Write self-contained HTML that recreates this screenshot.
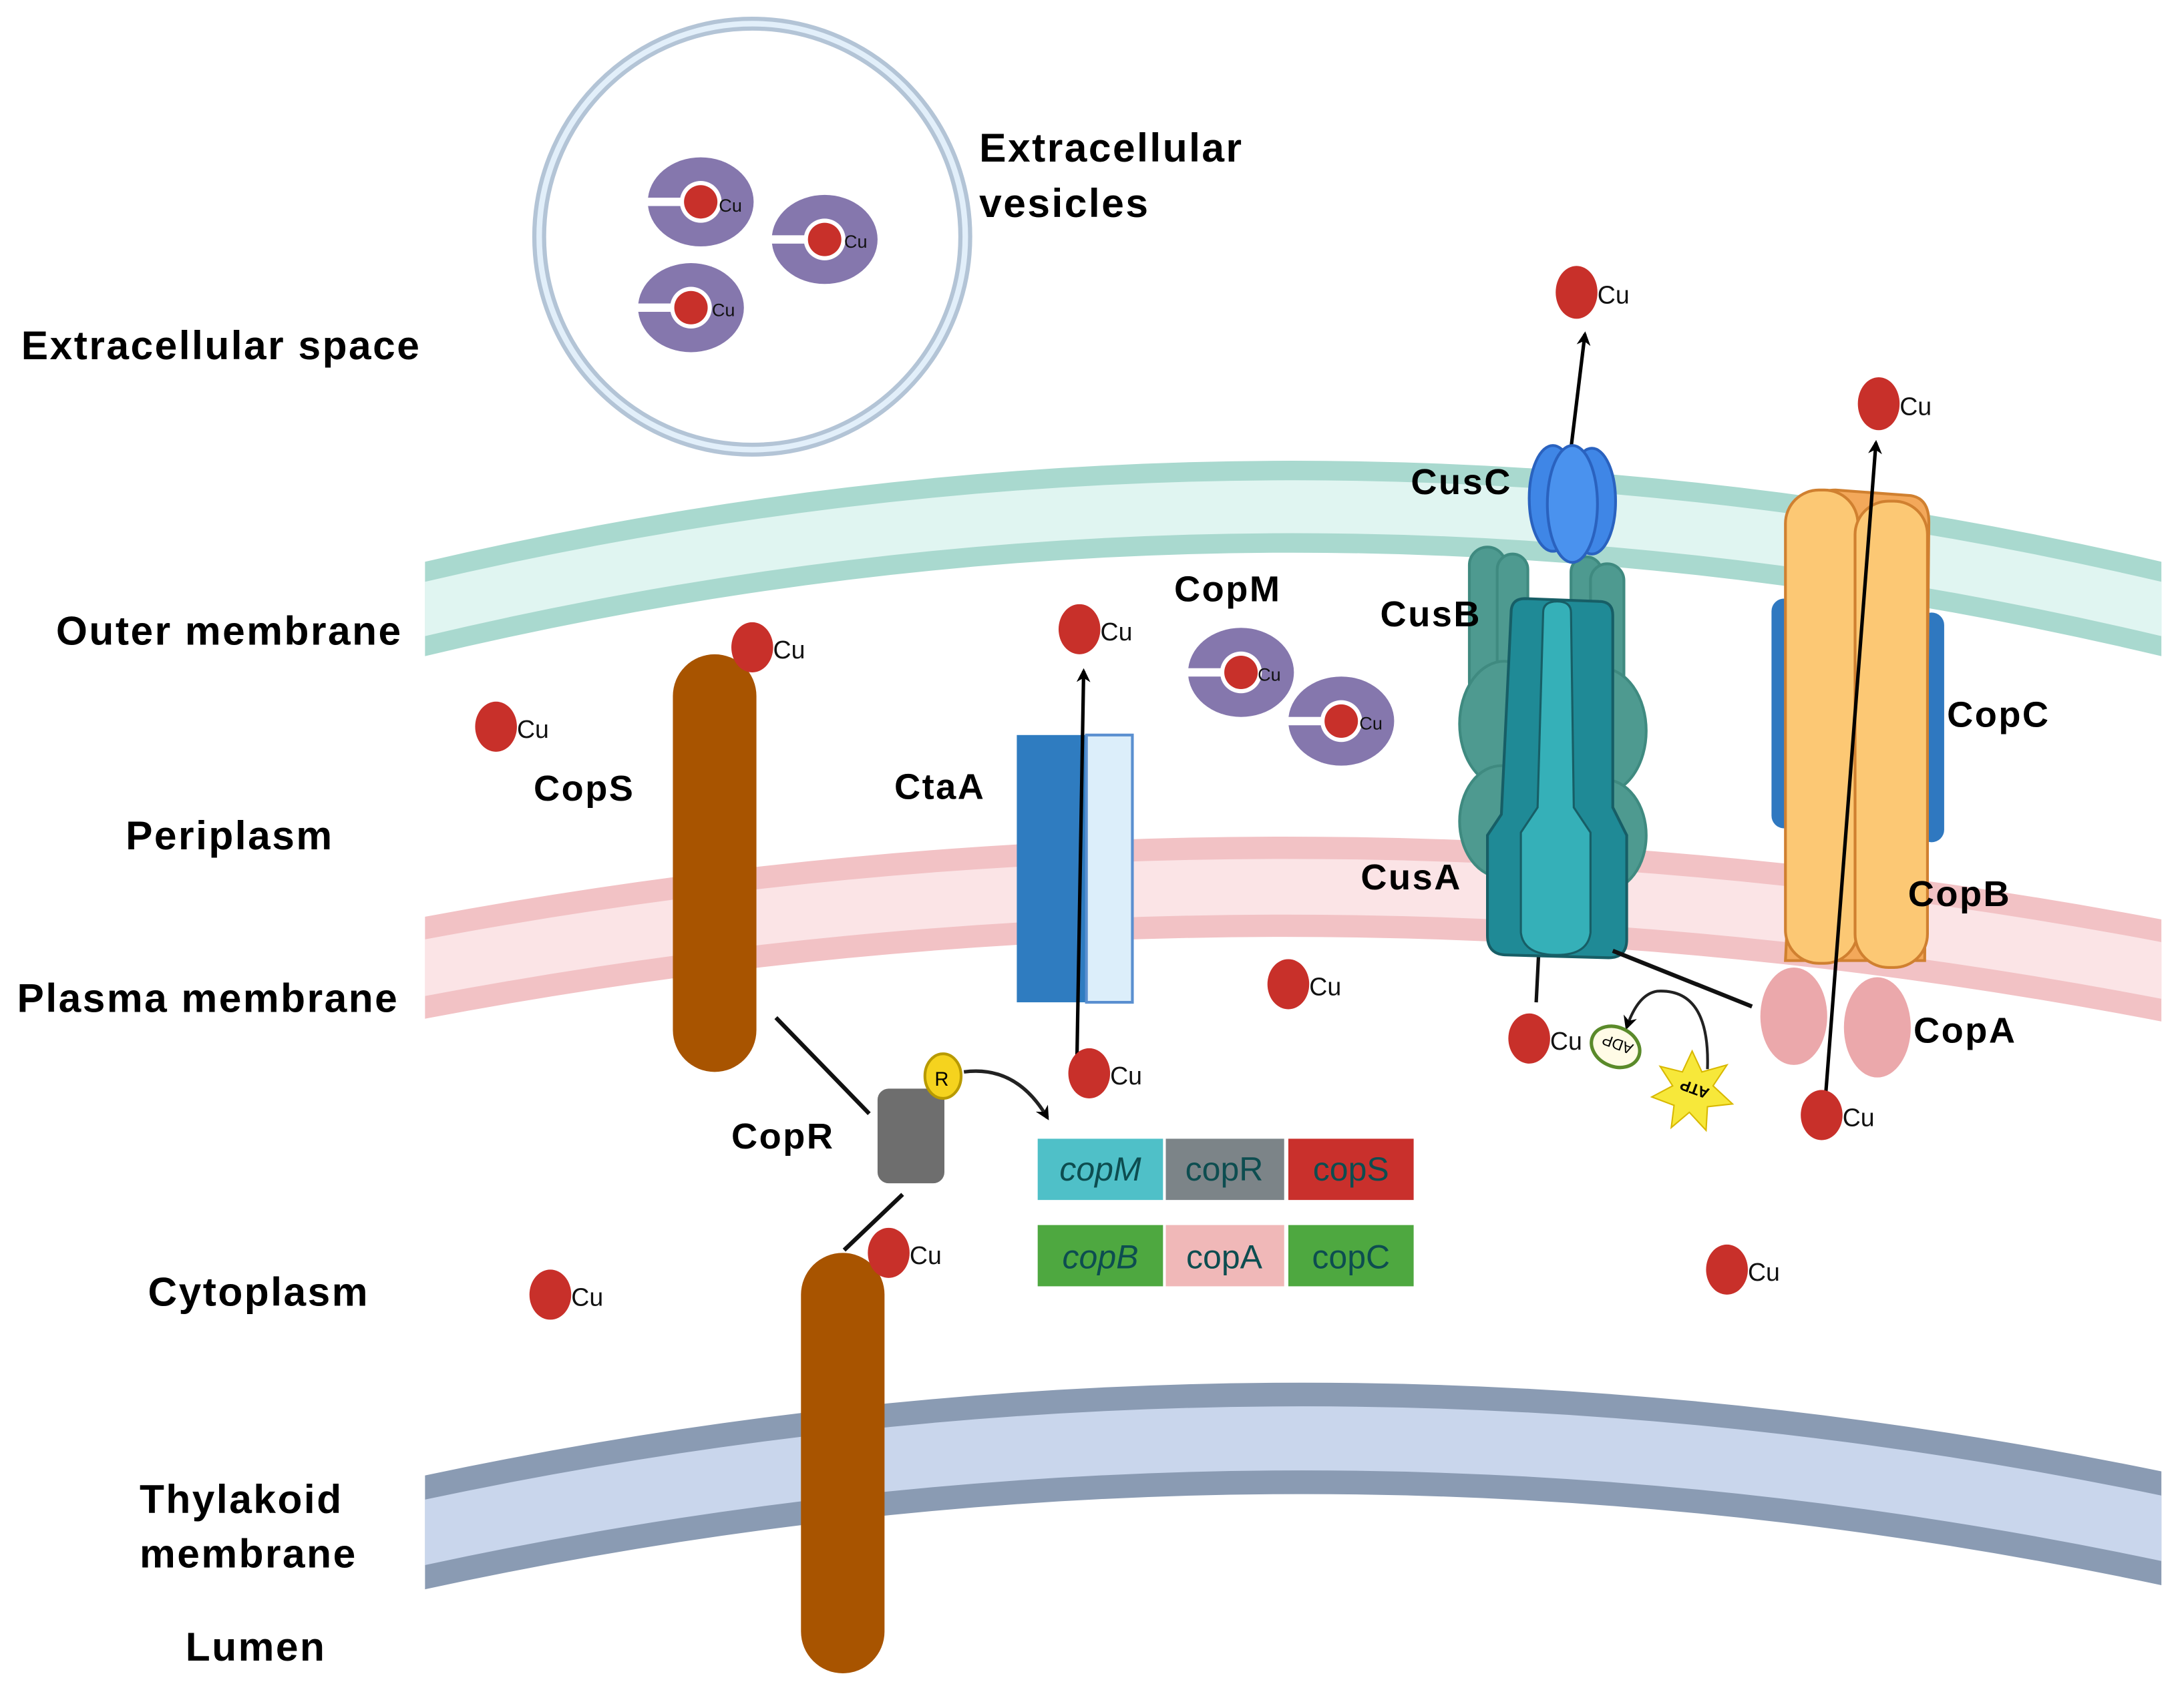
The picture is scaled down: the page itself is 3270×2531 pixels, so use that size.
<!DOCTYPE html>
<html><head><meta charset="utf-8"><style>
html,body{margin:0;padding:0;background:#fff}
svg{display:block}
.l{font-family:"Liberation Sans",sans-serif;font-weight:bold;font-size:29px;letter-spacing:1.2px;fill:#000}
.cu{font-family:"Liberation Sans",sans-serif;font-size:18px;fill:#111}
.g{font-family:"Liberation Sans",sans-serif;font-style:italic;font-size:24px;fill:#0d4d50;text-anchor:middle}
</style></head><body>
<svg width="3270" height="2531" viewBox="0 0 1568 1214" xmlns="http://www.w3.org/2000/svg">
<defs>
<marker id="ar" markerWidth="10" markerHeight="10" refX="8" refY="5" orient="auto" markerUnits="userSpaceOnUse"><path d="M0,0 L10,5 L0,10 L3,5z" fill="#000"/></marker>
<g id="cm">
<ellipse cx="0" cy="0" rx="38" ry="32" fill="#8577ad"/>
<rect x="-40" y="-3" width="40" height="6" fill="#fff"/>
<circle cx="0" cy="0" r="15" fill="#fff"/>
<circle cx="0" cy="0" r="12" fill="#c8302a"/>
</g>
<clipPath id="cl"><rect x="305" y="0" width="1247" height="1214"/></clipPath>
</defs>
<!-- membranes -->
<g clip-path="url(#cl)">
<path d="M290,441 Q928,287 1567,441" fill="none" stroke="#a9d9cf" stroke-width="66"/>
<path d="M290,441 Q928,287 1567,441" fill="none" stroke="#e0f5f1" stroke-width="38"/>
<path d="M290,698 Q928,575 1567,700" fill="none" stroke="#f2c2c5" stroke-width="72"/>
<path d="M290,698 Q928,575 1567,700" fill="none" stroke="#fbe4e6" stroke-width="40"/>
<path d="M290,1104 Q928,964 1567,1101" fill="none" stroke="#8a9bb3" stroke-width="80"/>
<path d="M290,1104 Q928,964 1567,1101" fill="none" stroke="#c9d6ec" stroke-width="46"/>
</g>
<!-- vesicle -->
<circle cx="540" cy="170" r="153" fill="#fff" stroke="#b3c4d6" stroke-width="10"/>
<circle cx="540" cy="170" r="153" fill="none" stroke="#e2effa" stroke-width="4"/>
<use href="#cm" x="503" y="145"/><text class="cu" x="516" y="152" style="font-size:13px">Cu</text>
<use href="#cm" x="592" y="172"/><text class="cu" x="606" y="178" style="font-size:13px">Cu</text>
<use href="#cm" x="496" y="221"/><text class="cu" x="511" y="227" style="font-size:13px">Cu</text>
<!-- periplasm CopM -->
<use href="#cm" x="891" y="483"/><text class="cu" x="903" y="489" style="font-size:13px">Cu</text>
<use href="#cm" x="963" y="518"/><text class="cu" x="976" y="524" style="font-size:13px">Cu</text>
<!-- CopS capsules -->
<rect x="483" y="470" width="60" height="300" rx="30" fill="#a85400"/>
<rect x="575" y="900" width="60" height="302" rx="30" fill="#a85400"/>
<!-- CtaA -->
<rect x="730" y="528" width="52" height="192" fill="#2f7cc0"/>
<rect x="780" y="528" width="33" height="192" fill="#dceefa" stroke="#5a8fd0" stroke-width="2"/>
<line x1="773" y1="772" x2="778" y2="482" stroke="#000" stroke-width="2.5" marker-end="url(#ar)"/>
<!-- CopR -->
<line x1="557" y1="731" x2="624" y2="800" stroke="#111" stroke-width="3"/>
<line x1="648" y1="858" x2="606" y2="898" stroke="#111" stroke-width="3"/>
<rect x="630" y="782" width="48" height="68" rx="8" fill="#6e6e6e"/>
<ellipse cx="677" cy="773" rx="13" ry="16" fill="#f5d31e" stroke="#b89a00" stroke-width="2"/>
<text x="671" y="780" style="font-family:'Liberation Sans',sans-serif;font-size:14px">R</text>
<path d="M692,770 Q730,765 752,803" fill="none" stroke="#222" stroke-width="2.5" marker-end="url(#ar)"/>
<!-- gene boxes -->
<rect x="745" y="818" width="90" height="44" fill="#4fc0c8"/><text class="g" x="790" y="848">copM</text>
<rect x="837" y="818" width="85" height="44" fill="#7c8488"/><text class="g" x="879" y="848" style="font-style:normal">copR</text>
<rect x="925" y="818" width="90" height="44" fill="#c9302c"/><text class="g" x="970" y="848" style="font-style:normal">copS</text>
<rect x="745" y="880" width="90" height="44" fill="#4ea840"/><text class="g" x="790" y="911">copB</text>
<rect x="837" y="880" width="85" height="44" fill="#f0b8b8"/><text class="g" x="879" y="911" style="font-style:normal">copA</text>
<rect x="925" y="880" width="90" height="44" fill="#4ea840"/><text class="g" x="970" y="911" style="font-style:normal">copC</text>
<!-- Cus complex -->
<line x1="1128" y1="322" x2="1138" y2="240" stroke="#000" stroke-width="2.5" marker-end="url(#ar)"/>
<line x1="1105" y1="680" x2="1103" y2="720" stroke="#111" stroke-width="2.5"/>
<g fill="#4e9a90" stroke="#3f8a80" stroke-width="2">
<rect x="1055" y="393" width="26" height="110" rx="13"/>
<rect x="1075" y="398" width="22" height="100" rx="11"/>
<rect x="1128" y="400" width="22" height="100" rx="11"/>
<rect x="1142" y="405" width="24" height="110" rx="12"/>
<ellipse cx="1080" cy="520" rx="32" ry="45"/>
<ellipse cx="1078" cy="590" rx="30" ry="40"/>
<ellipse cx="1150" cy="525" rx="32" ry="45"/>
<ellipse cx="1152" cy="600" rx="30" ry="40"/>
</g>
<path d="M1085,440 Q1085,430 1095,430 L1148,432 Q1158,432 1158,442 L1158,580 L1168,600 L1168,675 Q1168,688 1155,688 L1082,686 Q1068,686 1068,672 L1068,600 L1078,585 Z" fill="#1f8a96" stroke="#175e66" stroke-width="2"/>
<path d="M1108,440 Q1108,432 1118,432 Q1128,432 1128,440 L1130,580 L1142,598 L1142,670 Q1140,686 1118,686 Q1094,686 1092,670 L1092,598 L1104,580 Z" fill="#35b0b8" stroke="#175e66" stroke-width="1.5"/>
<g fill="#3f86e6" stroke="#2a62bf" stroke-width="2">
<ellipse cx="1115" cy="358" rx="17" ry="38"/>
<ellipse cx="1143" cy="360" rx="17" ry="38"/>
<ellipse cx="1129" cy="362" rx="18" ry="42" fill="#4a92ee"/>
</g>
<!-- CopB / CopC / CopA -->
<rect x="1272" y="430" width="18" height="165" rx="9" fill="#2f78c0"/>
<rect x="1378" y="440" width="18" height="165" rx="9" fill="#2f78c0"/>
<path d="M1298,370 Q1300,352 1318,352 L1372,356 Q1385,358 1385,375 L1382,690 L1282,690 Z" fill="#f3a85a" stroke="#d08030" stroke-width="2"/>
<rect x="1282" y="352" width="52" height="340" rx="24" fill="#fcc874" stroke="#d08030" stroke-width="2"/>
<rect x="1332" y="360" width="52" height="335" rx="24" fill="#fcc874" stroke="#d08030" stroke-width="2"/>
<ellipse cx="1288" cy="730" rx="24" ry="35" fill="#eba8ab"/>
<ellipse cx="1348" cy="738" rx="24" ry="36" fill="#eba8ab"/>
<line x1="1311" y1="785" x2="1347" y2="318" stroke="#000" stroke-width="2.5" marker-end="url(#ar)"/>
<!-- ATP/ADP -->
<line x1="1158" y1="683" x2="1258" y2="723" stroke="#111" stroke-width="3"/>
<path d="M1226,768 Q1228,710 1190,712 Q1176,714 1168,738" fill="none" stroke="#222" stroke-width="2" marker-end="url(#ar)"/>
<ellipse cx="1160" cy="752" rx="18" ry="14" fill="#fffbe6" stroke="#5a8a2a" stroke-width="2.5" transform="rotate(25 1160 752)"/>
<text x="1148" y="758" style="font-family:'Liberation Sans',sans-serif;font-size:11px" transform="rotate(200 1160 752)">ADP</text>
<path d="M1215,755 L1222,770 L1240,765 L1230,780 L1244,793 L1226,795 L1225,812 L1213,799 L1200,810 L1202,794 L1186,788 L1201,780 L1192,766 L1208,770 Z" fill="#f7e83a" stroke="#d8b800" stroke-width="1"/>
<text x="1203" y="788" style="font-family:'Liberation Sans',sans-serif;font-size:11px;font-weight:bold" transform="rotate(200 1215 783)">ATP</text>
<!-- Cu dots -->
<g fill="#c8302a">
<ellipse cx="356" cy="522" rx="15" ry="18"/><ellipse cx="540" cy="465" rx="15" ry="18"/>
<ellipse cx="775" cy="452" rx="15" ry="18"/><ellipse cx="925" cy="707" rx="15" ry="18"/>
<ellipse cx="782" cy="771" rx="15" ry="18"/><ellipse cx="638" cy="900" rx="15" ry="18"/>
<ellipse cx="395" cy="930" rx="15" ry="18"/><ellipse cx="1098" cy="746" rx="15" ry="18"/>
<ellipse cx="1308" cy="801" rx="15" ry="18"/><ellipse cx="1240" cy="912" rx="15" ry="18"/>
<ellipse cx="1132" cy="210" rx="15" ry="19"/><ellipse cx="1349" cy="290" rx="15" ry="19"/>
</g>
<g class="cu">
<text x="371" y="530">Cu</text><text x="555" y="473">Cu</text><text x="790" y="460">Cu</text>
<text x="940" y="715">Cu</text><text x="797" y="779">Cu</text><text x="653" y="908">Cu</text>
<text x="410" y="938">Cu</text><text x="1113" y="754">Cu</text><text x="1323" y="809">Cu</text>
<text x="1255" y="920">Cu</text><text x="1147" y="218">Cu</text><text x="1364" y="298">Cu</text>
</g>
<!-- labels -->
<g class="l">
<text x="15" y="258">Extracellular space</text>
<text x="40" y="463">Outer membrane</text>
<text x="90" y="610">Periplasm</text>
<text x="12" y="727">Plasma membrane</text>
<text x="106" y="938">Cytoplasm</text>
<text x="100" y="1087">Thylakoid</text>
<text x="100" y="1126">membrane</text>
<text x="133" y="1193">Lumen</text>
<text x="703" y="116">Extracellular</text>
<text x="703" y="156">vesicles</text>
<text x="1013" y="355" style="font-size:26px">CusC</text>
<text x="991" y="450" style="font-size:26px">CusB</text>
<text x="977" y="639" style="font-size:26px">CusA</text>
<text x="843" y="432" style="font-size:26px">CopM</text>
<text x="383" y="575" style="font-size:26px">CopS</text>
<text x="642" y="574" style="font-size:26px">CtaA</text>
<text x="525" y="825" style="font-size:26px">CopR</text>
<text x="1398" y="522" style="font-size:26px">CopC</text>
<text x="1370" y="651" style="font-size:26px">CopB</text>
<text x="1374" y="749" style="font-size:26px">CopA</text>
</g>
</svg>
</body></html>
